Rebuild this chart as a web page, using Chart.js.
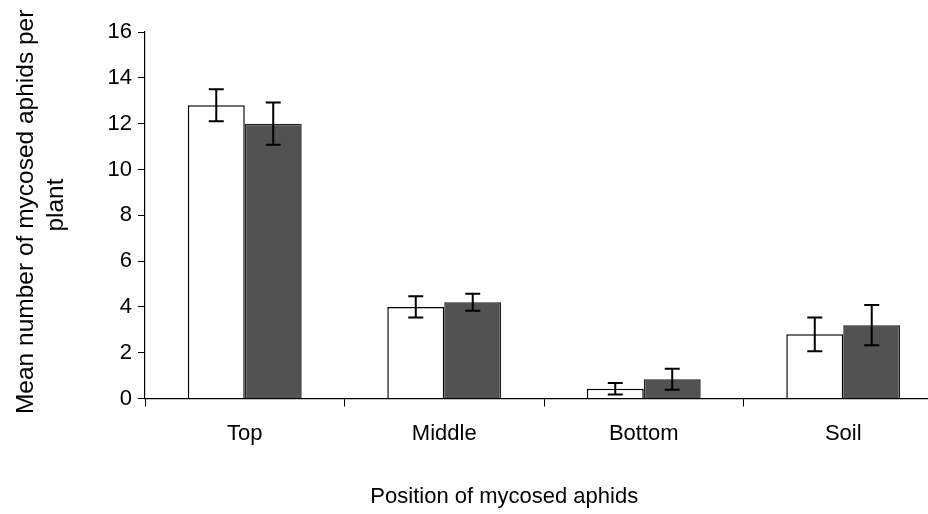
<!DOCTYPE html>
<html>
<head>
<meta charset="utf-8">
<script src="https://cdn.jsdelivr.net/npm/chart.js@4/dist/chart.umd.min.js"></script>
<style>
  html, body { margin: 0; padding: 0; background: #fff; overflow: hidden; }
  #wrap { width: 946px; height: 514px; }
</style>
</head>
<body>
<div id="wrap"><canvas id="grafico"></canvas></div>
<script>
const categorias = ["Top", "Middle", "Bottom", "Soil"];
const mediasBlanco = [12.8, 4.0, 0.43, 2.8];
const errorBlanco = [0.7, 0.46, 0.25, 0.74];
const mediasOscuro = [12.0, 4.2, 0.84, 3.2];
const errorOscuro = [0.92, 0.37, 0.46, 0.88];
const ticksY = [0, 2, 4, 6, 8, 10, 12, 14, 16];

const fuente = "'Liberation Sans', Arial, sans-serif";
const nb = n => "\u00a0".repeat(n);

// barras de error dibujadas con la escala del grafico
const barrasError = {
    id: "barrasError",
    afterDatasetsDraw(chart) {
        const ctx = chart.ctx;
        const y = chart.scales.y;
        ctx.save();
        ctx.strokeStyle = "#000";
        ctx.lineWidth = 2;
        chart.data.datasets.forEach((ds, i) => {
            const meta = chart.getDatasetMeta(i);
            meta.data.forEach((bar, j) => {
                const v = ds.data[j];
                const e = ds.errores[j];
                const yAlto = y.getPixelForValue(v + e);
                const yBajo = y.getPixelForValue(v - e);
                const x = bar.x;
                ctx.beginPath();
                ctx.moveTo(x, yAlto); ctx.lineTo(x, yBajo);
                ctx.moveTo(x - 7.5, yAlto); ctx.lineTo(x + 7.5, yAlto);
                ctx.moveTo(x - 7.5, yBajo); ctx.lineTo(x + 7.5, yBajo);
                ctx.stroke();
            });
        });
        ctx.restore();
    }
};

new Chart(document.getElementById("grafico"), {
    type: "bar",
    data: {
        labels: categorias,
        datasets: [
            {
                label: "Serie 1",
                data: mediasBlanco,
                errores: errorBlanco,
                backgroundColor: "#ffffff",
                borderColor: "#000000",
                borderWidth: 1.5
            },
            {
                label: "Serie 2",
                data: mediasOscuro,
                errores: errorOscuro,
                backgroundColor: "#525252",
                borderColor: "#222222",
                borderWidth: 1.5
            }
        ]
    },
    options: {
        responsive: true,
        maintainAspectRatio: false,
        animation: false,
        categoryPercentage: 0.571,
        barPercentage: 1,
        layout: { padding: { left: 0, right: 3, top: 32, bottom: 0 } },
        plugins: {
            legend: { display: false },
            tooltip: { enabled: false }
        },
        scales: {
            x: {
                afterFit(s) { s.height = 115.5; },
                grid: { display: true, drawOnChartArea: false, drawTicks: true, tickLength: 8, color: "#000", lineWidth: 1 },
                border: { display: true, color: "#000", width: 1.2 },
                ticks: { color: "#000", padding: 14, font: { family: fuente, size: 22 } },
                title: {
                    display: true,
                    text: "Position of mycosed aphids" + nb(13),
                    color: "#000",
                    font: { family: fuente, size: 22 },
                    padding: { top: 0, bottom: 4 }
                }
            },
            y: {
                min: 0,
                max: 16,
                afterFit(s) { s.width = 145; },
                afterBuildTicks(s) { s.ticks = ticksY.map(v => ({ value: v })); },
                grid: { display: true, drawOnChartArea: false, drawTicks: true, tickLength: 7, color: "#000", lineWidth: 1 },
                border: { display: true, color: "#000", width: 1.2 },
                ticks: { color: "#000", padding: 6, font: { family: fuente, size: 22 } },
                title: {
                    display: true,
                    text: [nb(1) + "Mean number of mycosed aphids per", nb(3) + "plant"],
                    color: "#000",
                    font: { family: fuente, size: 24.5 },
                    padding: { top: 12, bottom: 0 }
                }
            }
        }
    },
    plugins: [barrasError]
});
</script>
</body>
</html>
